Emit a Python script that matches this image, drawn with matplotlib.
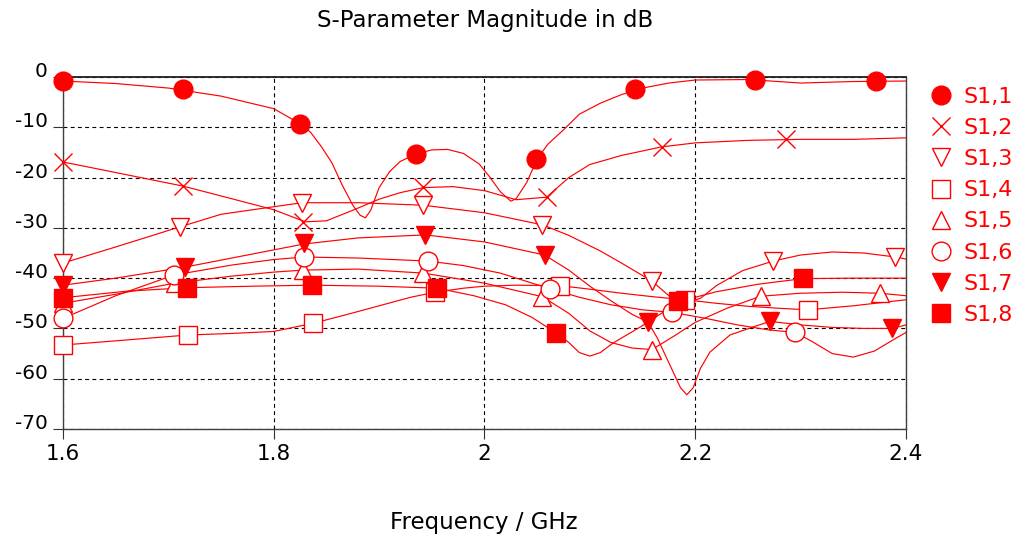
import matplotlib
matplotlib.use("Agg")
import matplotlib.pyplot as plt
from matplotlib.lines import Line2D

plt.rcParams['font.family'] = ['DejaVu Sans']

# ---------------- data ----------------
labels = ["S1,1", "S1,2", "S1,3", "S1,4", "S1,5", "S1,6", "S1,7", "S1,8"]

f11 = [1.60, 1.65, 1.70, 1.75, 1.80, 1.825, 1.835, 1.845, 1.855, 1.865, 1.875, 1.882, 1.887, 1.892,
       1.90, 1.91, 1.92, 1.935, 1.95, 1.965, 1.98, 1.995, 2.005, 2.015, 2.025, 2.03, 2.04, 2.05,
       2.06, 2.075, 2.09, 2.11, 2.13, 2.15, 2.175, 2.20, 2.25, 2.30, 2.35, 2.40]
s11 = [-0.8, -1.3, -2.2, -3.8, -6.3, -9.3, -11.0, -13.8, -17.0, -21.5, -25.5, -27.5, -28.0, -26.5,
       -22.0, -18.8, -16.8, -15.3, -14.5, -14.4, -15.2, -17.3, -19.9, -22.8, -24.7, -24.2, -21.0, -16.3,
       -13.4, -10.5, -7.4, -5.2, -3.5, -2.2, -1.2, -0.6, -0.5, -1.2, -0.9, -0.8]
m11_f = [1.600, 1.714, 1.825, 1.935, 2.049, 2.143, 2.257, 2.372]
m11_v = [-0.8, -2.4, -9.3, -15.3, -16.3, -2.4, -0.6, -0.8]

f12 = [1.60, 1.65, 1.714, 1.76, 1.80, 1.83, 1.85, 1.875, 1.90, 1.92, 1.942, 1.97, 2.00, 2.03,
       2.059, 2.08, 2.10, 2.13, 2.168, 2.20, 2.25, 2.30, 2.35, 2.40]
s12 = [-16.9, -19.0, -21.7, -24.2, -26.4, -28.8, -28.6, -26.5, -24.3, -23.0, -22.0, -21.8, -22.6, -24.4,
       -23.9, -20.0, -17.4, -15.6, -13.9, -13.1, -12.6, -12.4, -12.4, -12.1]
m12_f = [1.600, 1.714, 1.828, 1.942, 2.059, 2.168, 2.286]
m12_v = [-16.9, -21.7, -28.8, -21.9, -23.9, -13.9, -12.3]

f13 = [1.60, 1.65, 1.711, 1.75, 1.80, 1.827, 1.88, 1.942, 2.00, 2.055, 2.08, 2.11, 2.13, 2.159,
       2.175, 2.19, 2.205, 2.22, 2.245, 2.274, 2.30, 2.33, 2.36, 2.39, 2.40]
s13 = [-37.0, -33.8, -29.8, -27.3, -25.8, -25.0, -25.0, -25.5, -27.0, -29.4, -31.5, -34.6, -37.0, -40.6,
       -43.5, -45.0, -44.0, -41.5, -38.5, -36.6, -35.4, -34.8, -35.0, -35.8, -36.2]
m13_f = [1.600, 1.711, 1.827, 1.942, 2.055, 2.159, 2.274, 2.390]
m13_v = [-37.0, -29.8, -25.0, -25.5, -29.4, -40.6, -36.6, -35.8]

f14 = [1.60, 1.66, 1.719, 1.76, 1.80, 1.837, 1.87, 1.90, 1.93, 1.953, 1.98, 2.00, 2.03, 2.072,
       2.10, 2.13, 2.16, 2.19, 2.22, 2.25, 2.28, 2.307, 2.35, 2.40]
s14 = [-53.3, -52.3, -51.3, -51.0, -50.6, -49.0, -47.2, -45.5, -43.8, -42.8, -42.0, -41.6, -41.4, -41.5,
       -42.2, -43.0, -43.7, -44.3, -45.0, -45.6, -46.0, -46.3, -45.5, -44.3]
m14_f = [1.600, 1.719, 1.837, 1.953, 2.072, 2.190, 2.307]
m14_v = [-53.3, -51.3, -49.0, -42.7, -41.5, -44.3, -46.3]

f15 = [1.60, 1.65, 1.706, 1.76, 1.80, 1.828, 1.88, 1.942, 2.00, 2.055, 2.08, 2.10, 2.12, 2.14,
       2.159, 2.18, 2.20, 2.23, 2.262, 2.30, 2.34, 2.375, 2.40]
s15 = [-45.0, -43.2, -41.0, -39.6, -38.8, -38.4, -38.2, -39.0, -41.0, -43.7, -47.0, -50.5, -52.8, -53.9,
       -54.2, -51.5, -48.8, -46.0, -43.6, -43.0, -42.8, -43.0, -43.5]
m15_f = [1.600, 1.706, 1.828, 1.942, 2.055, 2.159, 2.262, 2.375]
m15_v = [-45.0, -41.0, -38.4, -39.0, -43.7, -54.2, -43.6, -43.0]

f16 = [1.60, 1.65, 1.705, 1.76, 1.80, 1.829, 1.88, 1.946, 1.98, 2.015, 2.062, 2.09, 2.12, 2.15,
       2.178, 2.21, 2.24, 2.27, 2.295, 2.31, 2.33, 2.35, 2.37, 2.39, 2.40]
s16 = [-48.0, -43.5, -39.4, -37.4, -36.3, -35.8, -36.0, -36.6, -37.5, -39.0, -42.1, -43.8, -45.3, -46.3,
       -46.8, -48.0, -49.3, -50.3, -50.8, -52.5, -55.0, -55.7, -54.5, -52.0, -50.8]
m16_f = [1.600, 1.705, 1.829, 1.946, 2.062, 2.178, 2.295]
m16_v = [-48.0, -39.4, -35.8, -36.6, -42.1, -46.8, -50.8]

f17 = [1.60, 1.65, 1.716, 1.77, 1.829, 1.88, 1.944, 2.00, 2.057, 2.08, 2.10, 2.12, 2.14, 2.155,
       2.164, 2.176, 2.186, 2.192, 2.198, 2.205, 2.214, 2.233, 2.255, 2.271, 2.30, 2.33, 2.36,
       2.387, 2.40]
s17 = [-41.4, -40.0, -37.8, -35.6, -33.2, -32.0, -31.4, -32.8, -35.4, -38.4, -41.6, -44.5, -47.2, -48.7,
       -51.9, -57.3, -61.8, -63.2, -61.8, -57.9, -54.7, -51.3, -49.7, -48.6, -49.3, -49.8, -50.0,
       -50.0, -49.3]
m17_f = [1.600, 1.716, 1.829, 1.944, 2.057, 2.155, 2.271, 2.387]
m17_v = [-41.4, -37.8, -33.0, -31.4, -35.4, -48.7, -48.6, -50.0]

f18 = [1.60, 1.66, 1.718, 1.78, 1.836, 1.90, 1.955, 1.99, 2.02, 2.045, 2.068, 2.08, 2.09, 2.10,
       2.11, 2.122, 2.148, 2.173, 2.184, 2.22, 2.26, 2.302, 2.35, 2.40]
s18 = [-43.9, -42.6, -41.9, -41.6, -41.4, -41.6, -42.0, -43.5, -45.3, -47.8, -50.9, -52.8, -54.8, -55.5,
       -54.8, -52.9, -49.7, -46.3, -44.7, -42.7, -41.2, -40.1, -40.0, -40.0]
m18_f = [1.600, 1.718, 1.836, 1.955, 2.068, 2.184, 2.302]
m18_v = [-43.9, -41.9, -41.4, -42.0, -50.9, -44.5, -40.0]

x_ticks = [1.6, 1.8, 2.0, 2.2, 2.4]
x_ticklabels = ["1.6", "1.8", "2", "2.2", "2.4"]
y_ticks = [0, -10, -20, -30, -40, -50, -60, -70]
y_ticklabels = ["0", "-10", "-20", "-30", "-40", "-50", "-60", "-70"]

# ---------------- styling ----------------
curves = [(f11, s11), (f12, s12), (f13, s13), (f14, s14), (f15, s15), (f16, s16), (f17, s17), (f18, s18)]
marks = [(m11_f, m11_v), (m12_f, m12_v), (m13_f, m13_v), (m14_f, m14_v),
         (m15_f, m15_v), (m16_f, m16_v), (m17_f, m17_v), (m18_f, m18_v)]
styles = [("o", "red"), ("x", "red"), ("v", "white"), ("s", "white"),
          ("^", "white"), ("o", "white"), ("v", "red"), ("s", "red")]
RED = "#ff0000"
MS = 13.5

fig = plt.figure(figsize=(10.2, 5.37), dpi=100)
ax = fig.add_axes([63 / 1020, 1 - 429 / 537, (906 - 63) / 1020, (429 - 77) / 537])
ax.set_xlim(1.6, 2.4)
ax.set_ylim(-70, 0)

for f, v in curves:
    ax.plot(f, v, color=RED, lw=0.85, zorder=2, clip_on=False)
for (mf, mv), (mk, fc) in zip(marks, styles):
    ax.plot(mf, mv, ls="none", marker=mk, ms=MS, mfc=fc, mec=RED, mew=1.0,
            zorder=3, clip_on=False)

ax.set_xticks(x_ticks, labels=x_ticklabels, fontsize=15.5)
ax.set_yticks(y_ticks, labels=y_ticklabels, fontsize=14.5, va="baseline")
ax.grid(True, color="black", ls=(0, (3.5, 3)), lw=0.8)
ax.set_axisbelow(True)
ax.tick_params(axis="both", direction="out", length=7, width=0.8, color="#333333")
ax.tick_params(axis="x", pad=4)
ax.tick_params(axis="y", pad=4)
for side in ["left", "bottom", "right"]:
    ax.spines[side].set_color("#404040")
    ax.spines[side].set_linewidth(1.0)
ax.spines["top"].set_color("#202020")
ax.spines["top"].set_linewidth(1.3)

fig.text(485 / 1020, 1 - 21 / 537, "S-Parameter Magnitude in dB", ha="center", va="center", fontsize=16.5)
fig.text(484 / 1020, 1 - 523 / 537, "Frequency / GHz", ha="center", va="center", fontsize=16.5)

handles = [Line2D([], [], ls="none", marker=mk, ms=MS, mfc=fc, mec=RED, mew=1.0) for mk, fc in styles]
fig.legend(handles, labels, loc="upper left", bbox_to_anchor=(0.912, 0.838), frameon=False,
           fontsize=16, labelcolor=RED, handlelength=1.0, handletextpad=0.5,
           labelspacing=0.5, borderpad=0, borderaxespad=0)

fig.savefig("out.png", dpi=100)
